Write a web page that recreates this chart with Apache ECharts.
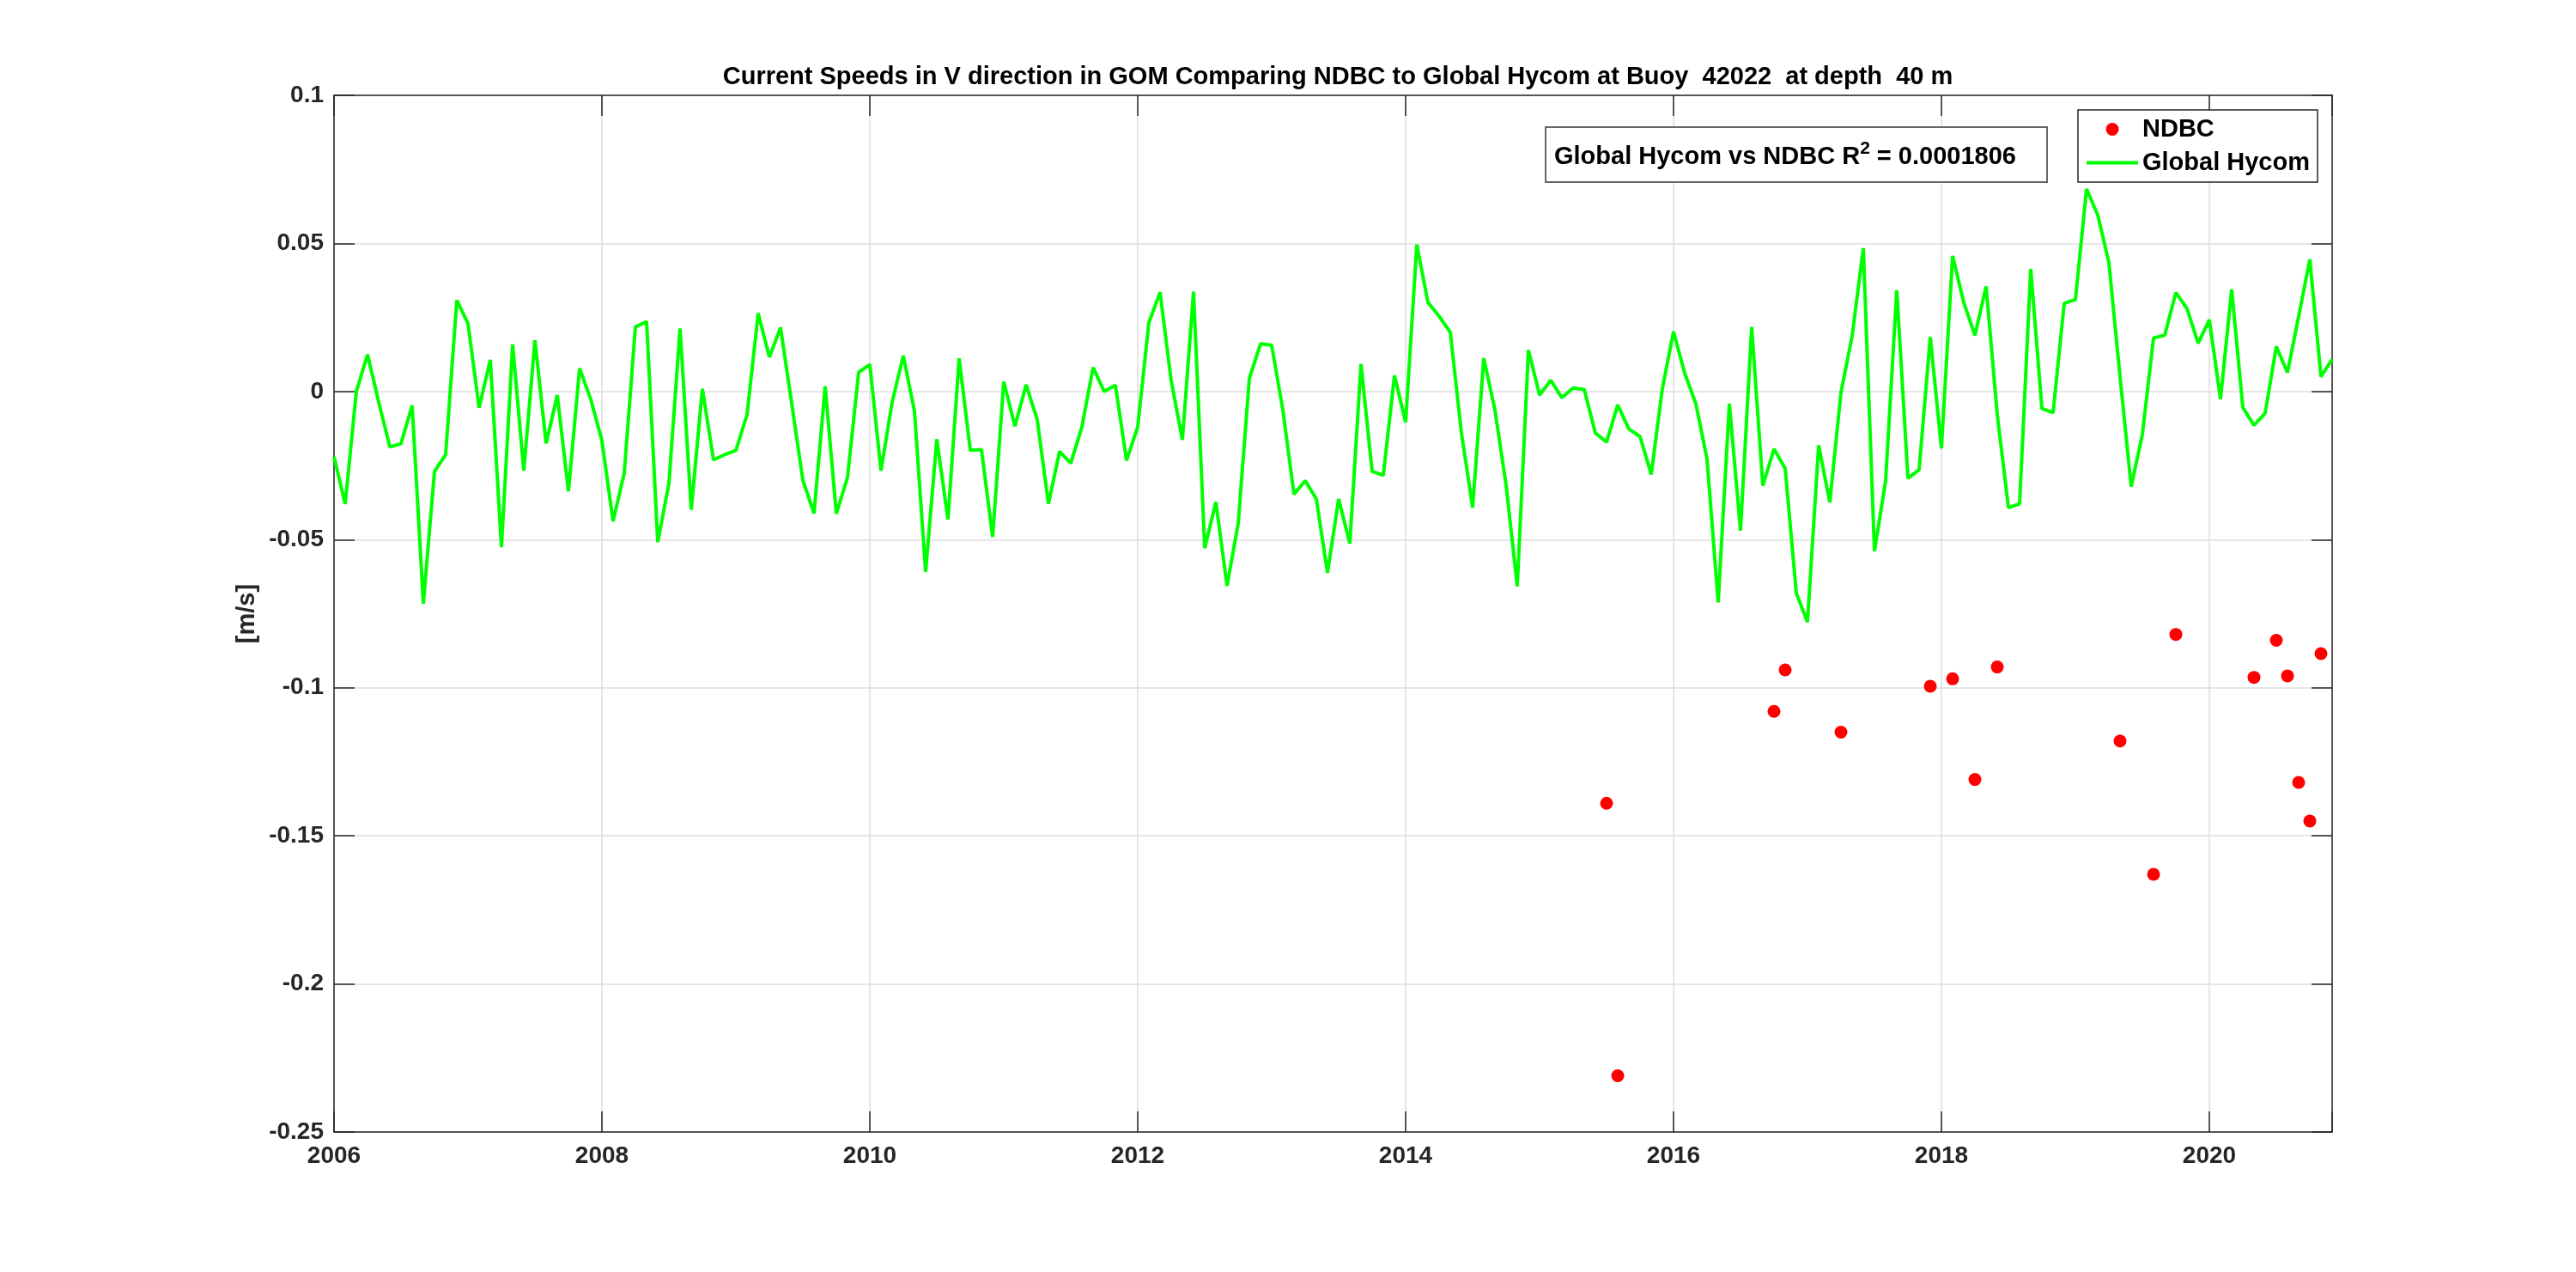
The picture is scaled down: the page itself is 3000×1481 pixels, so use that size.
<!DOCTYPE html>
<html>
<head>
<meta charset="utf-8">
<script src="https://cdn.jsdelivr.net/npm/echarts@6/dist/echarts.min.js"></script>
<style>html,body{margin:0;padding:0;background:#fff;}#c{width:3000px;height:1481px;}</style>
</head>
<body>
<div id="c"></div>
<script>
// Global Hycom monthly V-current series, starting Jan 2006
const hycomStartYear = 2006;
const hycomV = [
 -0.022,-0.038,0.0,0.0125,-0.0035,-0.0187,-0.0176,-0.0047,-0.0716,-0.027,-0.0213,0.0308,
 0.023,-0.0055,0.0107,-0.0526,0.0159,-0.0267,0.0173,-0.0175,-0.0012,-0.0337,0.0078,-0.0026,
 -0.0166,-0.0438,-0.0275,0.0218,0.0236,-0.0508,-0.0311,0.0213,-0.0399,0.0009,-0.0231,-0.0213,
 -0.0199,-0.0078,0.0264,0.0116,0.0216,-0.004,-0.0299,-0.0412,0.0018,-0.0413,-0.029,0.0065,
 0.0091,-0.0267,-0.0036,0.0121,-0.0067,-0.0609,-0.0161,-0.0432,0.0112,-0.0198,-0.0196,-0.0491,
 0.0033,-0.0117,0.0023,-0.0096,-0.0379,-0.0202,-0.0242,-0.0119,0.0081,0.0,0.0021,-0.0233,
 -0.0119,0.0233,0.0335,0.0036,-0.0163,0.0337,-0.0529,-0.0373,-0.0656,-0.0446,0.0044,0.0161,
 0.0156,-0.0062,-0.0347,-0.0301,-0.0363,-0.0612,-0.0363,-0.0513,0.0093,-0.027,-0.0283,0.0054,
 -0.0104,0.0496,0.0301,0.0254,0.02,-0.014,-0.0392,0.0112,-0.0062,-0.0316,-0.0658,0.014,
 -0.0012,0.0038,-0.0021,0.0012,0.0007,-0.014,-0.0171,-0.0045,-0.0127,-0.0152,-0.028,0.001,
 0.0202,0.0062,-0.0041,-0.0228,-0.0712,-0.0041,-0.047,0.0218,-0.0318,-0.0194,-0.0259,-0.0681,
 -0.0778,-0.0181,-0.0374,-0.0003,0.0187,0.0484,-0.0539,-0.0301,0.0342,-0.0293,-0.0264,0.0184,
 -0.0192,0.0458,0.0301,0.0189,0.0355,-0.0078,-0.0392,-0.0379,0.0414,-0.0057,-0.0071,0.0298,
 0.031,0.0684,0.0596,0.0436,0.005,-0.0321,-0.0145,0.0181,0.019,0.0334,0.028,0.0163,
 0.0242,-0.0026,0.0345,-0.0054,-0.0114,-0.0073,0.0152,0.0064,0.0254,0.0446,0.005,0.0109
];
// NDBC observations (year-month)
const ndbcMonths = ['2015-07','2015-08','2016-10','2016-11','2017-04','2017-12','2018-02','2018-04','2018-06',
  '2019-05','2019-08','2019-10','2020-05','2020-07','2020-08','2020-09','2020-10','2020-11'];
const ndbcV = [-0.139,-0.231,-0.108,-0.094,-0.115,-0.0995,-0.097,-0.131,-0.093,
  -0.118,-0.163,-0.082,-0.0965,-0.084,-0.096,-0.132,-0.145,-0.0885];
const yTicks = { min: -0.25, max: 0.1, step: 0.05 };
const xTicks = { min: 2006, step: 2 };

const monthToYear = s => { const [y, m] = s.split('-').map(Number); return y + (m - 1) / 12; };
const hycomData = hycomV.map((v, i) => [hycomStartYear + i / 12, v]);
const ndbcData = ndbcV.map((v, i) => [monthToYear(ndbcMonths[i]), v]);
const xMax = hycomStartYear + (hycomV.length - 1) / 12;

const FONT = "'Liberation Sans', Arial, Helvetica, sans-serif";
const AX = '#262626';
const axisCommon = {
  axisLine: { show: true, onZero: false, lineStyle: { color: AX, width: 1.5 } },
  axisTick: { show: true, inside: true, length: 24, lineStyle: { color: AX, width: 1.5 } }
};

const chart = echarts.init(document.getElementById('c'), null, { renderer: 'canvas' });
chart.setOption({
  animation: false,
  backgroundColor: '#fff',
  title: [
    {
      text: 'Current Speeds in V direction in GOM Comparing NDBC to Global Hycom at Buoy  42022  at depth  40 m',
      left: 1558, top: 75, textAlign: 'center', padding: 0,
      textStyle: { fontFamily: FONT, fontSize: 29, fontWeight: 'bold', color: '#000' }
    },
    {
      text: '{a|Global Hycom vs NDBC R}{s|2}{a| = 0.0001806}',
      left: 1800, top: 148,
      padding: [15, 36, 15, 10],
      borderColor: '#666', borderWidth: 2, backgroundColor: '#fff',
      textStyle: {
        fontFamily: FONT,
        rich: {
          a: { fontFamily: FONT, fontSize: 29, fontWeight: 'bold', color: '#000', lineHeight: 40 },
          s: { fontFamily: FONT, fontSize: 21, fontWeight: 'bold', color: '#000', lineHeight: 14, verticalAlign: 'top' }
        }
      }
    }
  ],
  legend: {
    orient: 'vertical', left: 2420, top: 128,
    padding: [8, 9, 8, 10], itemGap: 10, itemWidth: 60, itemHeight: 15,
    borderColor: AX, borderWidth: 1.5, backgroundColor: '#fff',
    textStyle: { fontFamily: FONT, fontSize: 29, fontWeight: 'bold', color: '#000' },
    data: [
      { name: 'NDBC', icon: 'circle', itemStyle: { color: '#ff0000', opacity: 1 } },
      { name: 'Global Hycom', icon: 'path://M0,0h60v4h-60z', itemStyle: { color: '#00ff00', opacity: 1 } }
    ]
  },
  grid: { left: 389, right: 284, top: 111, bottom: 163, containLabel: false },
  xAxis: [
    Object.assign({
      type: 'value', min: xTicks.min, max: xMax, interval: xTicks.step, position: 'bottom',
      axisLabel: {
        fontFamily: FONT, fontSize: 28, fontWeight: 'bold', color: AX, margin: 14,
        formatter: v => (Math.abs(v - Math.round(v)) < 1e-6 ? String(Math.round(v)) : '')
      },
      splitLine: { show: true, lineStyle: { color: '#dedede', width: 1.5 } }
    }, axisCommon),
    Object.assign({
      type: 'value', min: xTicks.min, max: xMax, interval: xTicks.step, position: 'top',
      axisLabel: { show: false }, splitLine: { show: false }
    }, axisCommon)
  ],
  yAxis: [
    Object.assign({
      type: 'value', min: yTicks.min, max: yTicks.max, interval: yTicks.step, position: 'left',
      name: '[m/s]', nameLocation: 'middle', nameGap: 86, nameRotate: 90,
      nameTextStyle: { fontFamily: FONT, fontSize: 29, fontWeight: 'bold', color: AX },
      axisLabel: {
        fontFamily: FONT, fontSize: 28, fontWeight: 'bold', color: AX, margin: 12,
        formatter: v => String(Math.round(v * 100) / 100)
      },
      splitLine: { show: true, lineStyle: { color: '#dedede', width: 1.5 } }
    }, axisCommon),
    Object.assign({
      type: 'value', min: yTicks.min, max: yTicks.max, interval: yTicks.step, position: 'right',
      axisLabel: { show: false }, splitLine: { show: false }
    }, axisCommon)
  ],
  series: [
    {
      name: 'NDBC', type: 'scatter', xAxisIndex: 0, yAxisIndex: 0,
      data: ndbcData, symbol: 'circle', symbolSize: 15,
      itemStyle: { color: '#ff0000', opacity: 1 }, z: 3
    },
    {
      name: 'Global Hycom', type: 'line', xAxisIndex: 0, yAxisIndex: 0,
      data: hycomData, symbol: 'none', showSymbol: false,
      lineStyle: { color: '#00ff00', width: 4 }, itemStyle: { color: '#00ff00' }, z: 2
    }
  ]
});
</script>
</body>
</html>
